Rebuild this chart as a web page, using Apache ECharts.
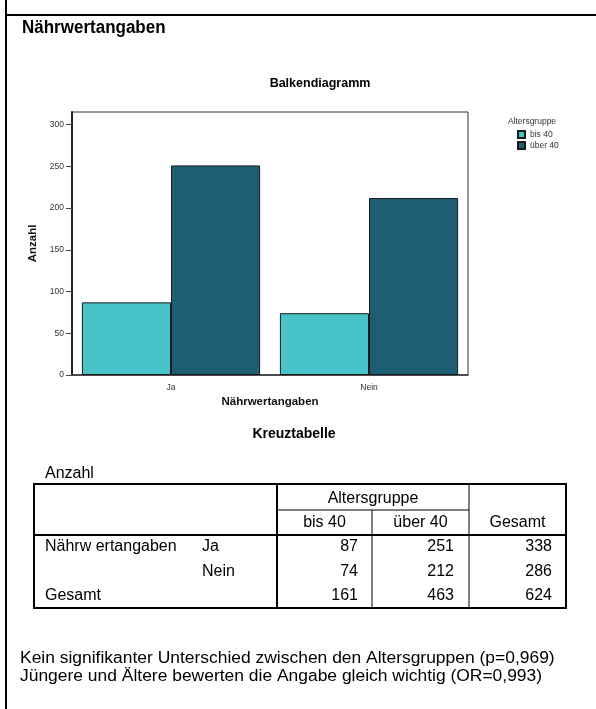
<!DOCTYPE html>
<html>
<head>
<meta charset="utf-8">
<script src="https://cdn.jsdelivr.net/npm/echarts@6/dist/echarts.min.js"></script>
<style>html,body{margin:0;padding:0;background:#fff}#c{width:596px;height:709px}</style>
</head>
<body>
<div id="c"></div>
<script>
const categories = ['Ja', 'Nein'];
const seriesNames = ['bis 40', 'über 40'];
const bis40 = [87, 74];
const ueber40 = [251, 212];
const yTicks = [0, 50, 100, 150, 200, 250, 300];
const tableRowLabels = ['Ja', 'Nein'];
const tableBis40 = [87, 74, 161];
const tableUeber40 = [251, 212, 463];
const tableGesamt = [338, 286, 624];
const footLines = [
  'Kein signifikanter Unterschied zwischen den Altersgruppen (p=0,969)',
  'Jüngere und Ältere bewerten die Angabe gleich wichtig (OR=0,993)'
];

const FONT = "'Liberation Sans', Arial, sans-serif";
const chart = echarts.init(document.getElementById('c'), null, {renderer: 'canvas'});

function line(x1, y1, x2, y2, w) {
  return {type: 'line', shape: {x1, y1, x2, y2}, style: {stroke: '#000', lineWidth: w || 1}, silent: true};
}
function txt(x, y, text, opts) {
  opts = opts || {};
  return {type: 'text', x, y, silent: true, scaleX: opts.sx || 1, scaleY: opts.sy || 1,
    style: {text, fill: opts.color || '#000', font: (opts.weight || 'normal') + ' ' + (opts.size || 16) + 'px ' + FONT,
      align: opts.align || 'left', verticalAlign: 'middle'}};
}

const g = [];
// page frame
g.push(line(6, 0, 6, 709, 2));
g.push(line(6, 15, 596, 15, 2));
g.push(txt(22, 28, 'Nährwertangaben', {weight: 'bold', size: 17, sy: 1.1}));
// legend title
g.push(txt(532, 122, 'Altersgruppe', {size: 8.5, align: 'center', color: '#333'}));
// Kreuztabelle title
g.push(txt(294, 434, 'Kreuztabelle', {weight: 'bold', size: 14, align: 'center'}));
// table
g.push(txt(45, 474, 'Anzahl'));
const L = 34, R = 566, T = 484, B = 608, V1 = 277, V2 = 372, V3 = 469, H1 = 510, H2 = 535;
g.push({type: 'rect', shape: {x: L, y: T, width: R - L, height: B - T}, style: {fill: 'none', stroke: '#000', lineWidth: 2}, silent: true});
g.push(line(L, H2, R, H2, 2));
g.push(line(V1, T, V1, B, 2));
g.push(line(V1, H1, V3, H1, 1));
g.push(line(V2, H1, V2, B, 1));
g.push(line(V3, T, V3, B, 1));
g.push(txt((V1 + V3) / 2, 499, 'Altersgruppe', {align: 'center'}));
g.push(txt((V1 + V2) / 2, 523, seriesNames[0], {align: 'center'}));
g.push(txt((V2 + V3) / 2, 523, seriesNames[1], {align: 'center'}));
g.push(txt((V3 + R) / 2, 523, 'Gesamt', {align: 'center'}));
const rowY = [547, 572, 596];
g.push(txt(45, rowY[0], 'Nährw ertangaben'));
g.push(txt(202, rowY[0], tableRowLabels[0]));
g.push(txt(202, rowY[1], tableRowLabels[1]));
g.push(txt(45, rowY[2], 'Gesamt'));
for (let i = 0; i < 3; i++) {
  g.push(txt(358, rowY[i], String(tableBis40[i]), {align: 'right'}));
  g.push(txt(454, rowY[i], String(tableUeber40[i]), {align: 'right'}));
  g.push(txt(552, rowY[i], String(tableGesamt[i]), {align: 'right'}));
}
// footnote
g.push(txt(20, 659, footLines[0], {size: 16, sx: 1.09}));
g.push(txt(20, 677, footLines[1], {size: 16, sx: 1.09}));

const option = {
  animation: false,
  backgroundColor: '#fff',
  textStyle: {fontFamily: FONT},
  title: {
    text: 'Balkendiagramm', left: 315, top: 72, textAlign: 'center',
    textStyle: {fontSize: 12.5, fontWeight: 'bold', color: '#000', fontFamily: FONT}
  },
  legend: {
    orient: 'vertical', left: 517, top: 130, itemWidth: 7, itemHeight: 7, itemGap: 2,
    icon: 'rect', data: seriesNames, padding: 0,
    textStyle: {fontSize: 8.5, color: '#333', fontFamily: FONT}
  },
  grid: {left: 72, right: 128, top: 112, bottom: 334, show: true, borderColor: '#333', borderWidth: 1, backgroundColor: '#fff'},
  xAxis: {
    type: 'category', data: categories,
    axisLine: {lineStyle: {color: '#333', width: 1.5}},
    axisTick: {alignWithLabel: true, length: 6, lineStyle: {color: '#555'}},
    axisLabel: {fontSize: 8.5, color: '#333', margin: 8},
    name: 'Nährwertangaben', nameLocation: 'middle', nameGap: 21,
    nameTextStyle: {fontSize: 11.5, fontWeight: 'bold', color: '#111'}
  },
  yAxis: {
    type: 'value', min: 0, max: 315, interval: 50,
    splitLine: {show: false},
    axisLine: {show: true, lineStyle: {color: '#222', width: 2}},
    axisTick: {show: true, length: 6, lineStyle: {color: '#444'}, customValues: yTicks},
    axisLabel: {fontSize: 8.5, color: '#333', margin: 8, customValues: yTicks},
    name: 'Anzahl', nameLocation: 'middle', nameGap: 17,
    nameTextStyle: {fontSize: 11.5, fontWeight: 'bold', color: '#111'}
  },
  series: [
    {name: seriesNames[0], type: 'bar', data: bis40, barGap: '0%', barCategoryGap: '10%',
     itemStyle: {color: '#48C4C8', borderColor: '#1a1a1a', borderWidth: 1}},
    {name: seriesNames[1], type: 'bar', data: ueber40, barGap: '0%', barCategoryGap: '10%',
     itemStyle: {color: '#1D5E74', borderColor: '#1a1a1a', borderWidth: 1}}
  ],
  graphic: {elements: g}
};
chart.setOption(option);
</script>
</body>
</html>
